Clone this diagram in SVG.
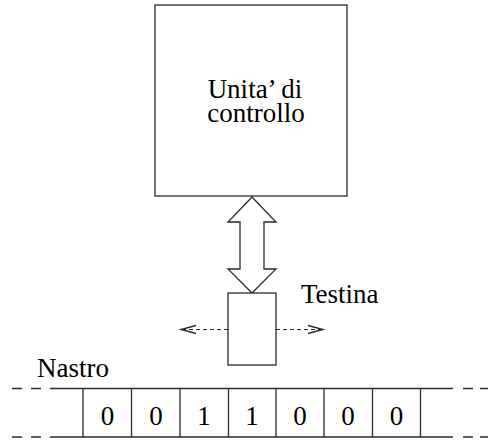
<svg xmlns="http://www.w3.org/2000/svg" width="488" height="442" viewBox="0 0 488 442">
<style>
.s{fill:none;stroke:#2a2a2a;stroke-width:1.3}
.w{fill:#fff;stroke:#2a2a2a;stroke-width:1.3}
.d{fill:none;stroke:#2a2a2a;stroke-width:1.1;stroke-dasharray:4 3}
.t{font-family:"Liberation Serif","Times New Roman","DejaVu Serif",serif;font-size:27px;fill:#000}
.c{text-anchor:middle}
</style>
<g id="unita">
<rect class="s" x="155" y="5" width="192" height="191"/>
<text class="t c" x="255" y="98">Unita’ di</text>
<text class="t c" x="256" y="122">controllo</text>
</g>
<g id="connectors">
<polygon class="w" points="252,197 228,222 240,222 240,269 228,269 252,293 276,269 264,269 264,222 276,222"/>
<line class="d" x1="228" y1="329.5" x2="184" y2="329.5"/>
<polyline class="s" points="196,325.5 181,329.5 196,333.5"/>
<line class="d" x1="276" y1="329.5" x2="320" y2="329.5"/>
<polyline class="s" points="308,325.5 323,329.5 308,333.5"/>
</g>
<g id="testina">
<rect class="w" x="228" y="293" width="48" height="72"/>
<text class="t" x="301" y="303">Testina</text>
</g>
<g id="nastro">
<text class="t" x="37" y="377">Nastro</text>
<line class="s" x1="50" y1="388.5" x2="453" y2="388.5"/>
<line class="s" x1="50" y1="437" x2="453" y2="437"/>
<path class="s" d="M12 388.5H22M31 388.5H41M463 388.5H473M480 388.5H488M12 437H22M31 437H41M463 437H473M480 437H488"/>
<path class="s" d="M83 388.5V437M131.5 388.5V437M180 388.5V437M228.5 388.5V437M276 388.5V437M324 388.5V437M372.5 388.5V437M420.5 388.5V437"/>
<text class="t c" x="107.5" y="425">0</text>
<text class="t c" x="156" y="425">0</text>
<text class="t c" x="204" y="425">1</text>
<text class="t c" x="252" y="425">1</text>
<text class="t c" x="300" y="425">0</text>
<text class="t c" x="348" y="425">0</text>
<text class="t c" x="396.5" y="425">0</text>
</g>
</svg>
